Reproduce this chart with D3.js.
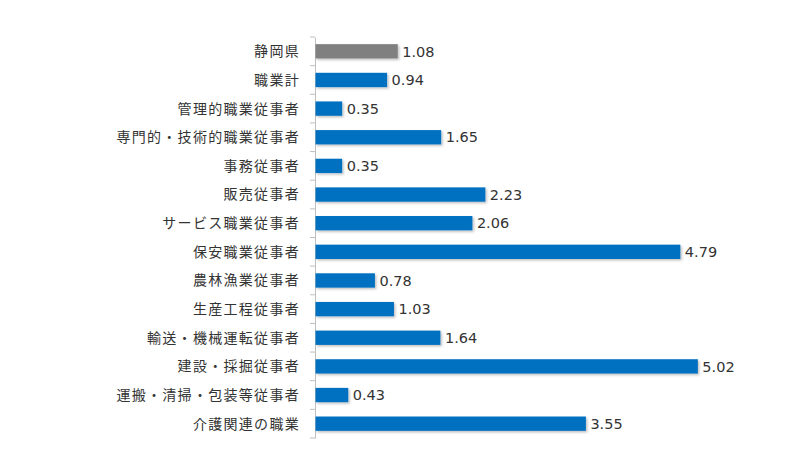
<!DOCTYPE html>
<html>
<head>
<meta charset="utf-8">
<script src="https://cdn.jsdelivr.net/npm/d3@7"></script>
<style>
  body { margin: 0; background: #fff; }
  .cat { font-family: "Noto Sans CJK JP", sans-serif; font-size: 14px; letter-spacing: 1.3px; fill: #333; }
  .val { font-family: "DejaVu Sans", Verdana, sans-serif; font-size: 14.5px; fill: #333; }
</style>
</head>
<body>
<div id="vis"></div>
<script>
const SVG = d3.select("#vis").append("svg");
const WIDTH = 800;
const HEIGHT = 473;
SVG.attr("width", WIDTH).attr("height", HEIGHT);

// datos
const CATEGORIAS = ["静岡県", "職業計", "管理的職業従事者", "専門的・技術的職業従事者", "事務従事者",
  "販売従事者", "サービス職業従事者", "保安職業従事者", "農林漁業従事者", "生産工程従事者",
  "輸送・機械運転従事者", "建設・採掘従事者", "運搬・清掃・包装等従事者", "介護関連の職業"];
const VALORES = [1.08, 0.94, 0.35, 1.65, 0.35, 2.23, 2.06, 4.79, 0.78, 1.03, 1.64, 5.02, 0.43, 3.55];
const DESTACADO = ["静岡県"];

const x = d3.scaleLinear().domain([0, 6]).range([315, 772]);
const y = d3.scaleBand().domain(CATEGORIAS).range([37, 438]).paddingInner(0.5).paddingOuter(0.25);

// sombra de las barras
const defs = SVG.append("defs");
const f = defs.append("filter").attr("id", "sombra")
  .attr("x", "-5%").attr("y", "-30%").attr("width", "115%").attr("height", "180%");
f.append("feDropShadow").attr("dx", 1.5).attr("dy", 1.5).attr("stdDeviation", 1.2)
  .attr("flood-color", "#000").attr("flood-opacity", 0.25);

// eje
const axis = d3.axisLeft(y).tickSizeInner(0).tickSizeOuter(0).tickFormat("");
const gEje = SVG.append("g").attr("transform", `translate(${x(0)},0)`).call(axis);
gEje.select(".domain").attr("stroke", "#bfbfbf");

// marcas entre categorías
const bordes = CATEGORIAS.map(c => y(c) - y.step() * y.paddingInner() / 2).concat([438]);
SVG.append("g").selectAll("line").data(bordes).join("line")
  .attr("x1", x(0) - 5).attr("x2", x(0))
  .attr("y1", d => d).attr("y2", d => d)
  .attr("stroke", "#bfbfbf");

// barras
SVG.append("g").selectAll("rect").data(CATEGORIAS).join("rect")
  .attr("x", x(0) + 0.5)
  .attr("y", d => y(d))
  .attr("width", (d, i) => x(VALORES[i]) - x(0))
  .attr("height", y.bandwidth())
  .attr("fill", d => DESTACADO.includes(d) ? "#808080" : "#0070c0")
  .attr("filter", "url(#sombra)");

// etiquetas de categoría
SVG.append("g").selectAll("text").data(CATEGORIAS).join("text")
  .classed("cat", true)
  .attr("x", 300)
  .attr("y", d => y(d) + y.bandwidth() / 2)
  .attr("dy", "0.35em")
  .attr("text-anchor", "end")
  .text(d => d);

// etiquetas de valor
SVG.append("g").selectAll("text").data(VALORES).join("text")
  .classed("val", true)
  .attr("x", d => x(d) + 5)
  .attr("y", (d, i) => y(CATEGORIAS[i]) + y.bandwidth() / 2)
  .attr("dy", "0.36em")
  .text(d => d.toFixed(2));
</script>
</body>
</html>
